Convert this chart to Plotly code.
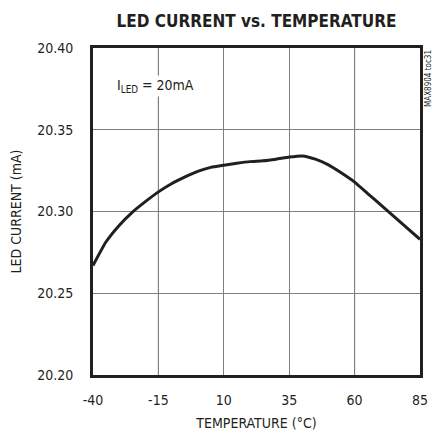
import plotly.graph_objects as go

# ── Data ───────────────────────────────────────────────────────────────────────
temperature = [-40, -35, -30, -25, -20, -15, -10, -5, 0, 5, 10, 15, 20, 25,
               30, 35, 40, 45, 50, 55, 60, 65, 70, 75, 80, 85]
led_current = [20.267, 20.2815, 20.2915, 20.2995, 20.306, 20.312, 20.317,
               20.321, 20.3245, 20.327, 20.3283, 20.3295, 20.3305, 20.331,
               20.332, 20.3333, 20.334, 20.332, 20.3285, 20.3235, 20.318,
               20.311, 20.304, 20.297, 20.290, 20.283]

x_ticks = [-40, -15, 10, 35, 60, 85]
y_ticks = [20.20, 20.25, 20.30, 20.35, 20.40]

FONT = "DejaVu Sans Condensed, Roboto, sans-serif"
TXT = "#231f20"

fig = go.Figure()

# darker vertical grid lines at -15 and 60 like the original
for xv in (x_ticks[1], x_ticks[4]):
    fig.add_vline(x=xv, line=dict(color=TXT, width=1), layer="below")

fig.add_trace(go.Scatter(
    x=temperature, y=led_current,
    mode="lines",
    line=dict(color=TXT, width=3, shape="spline", smoothing=0.5),
    showlegend=False, hoverinfo="skip",
))

# page body adds an 8px offset, so the figure is 8px smaller than the window
fig.update_layout(
    width=435, height=437,
    margin=dict(l=85, r=23, t=40, b=70),
    paper_bgcolor="white",
    plot_bgcolor="white",
    font=dict(family=FONT, color=TXT, size=14),
    title=dict(
        text="<b>LED CURRENT vs. TEMPERATURE</b>",
        font=dict(family=FONT, size=17, color=TXT),
        x=(85 + 412) / 2 / 435, xanchor="center",
        y=1 - 13 / 437, yanchor="middle",
    ),
    xaxis=dict(
        range=[-40, 85], tickvals=x_ticks,
        ticktext=[str(v) for v in x_ticks],
        showgrid=True, gridcolor="#808080", gridwidth=1,
        showline=True, linecolor=TXT, linewidth=3, mirror=True,
        ticks="", ticklabelstandoff=10, automargin=False,
        zeroline=False,
        title=dict(text="TEMPERATURE (°C)", standoff=12, font=dict(size=14)),
    ),
    yaxis=dict(
        range=[20.20, 20.40], tickvals=y_ticks,
        ticktext=[f"{v:.2f}" for v in y_ticks],
        showgrid=True, gridcolor="#808080", gridwidth=1,
        showline=True, linecolor=TXT, linewidth=3, mirror=True,
        ticks="", ticklabelstandoff=14, automargin=False,
        zeroline=False,
        title=dict(text="LED CURRENT (mA)", standoff=17, font=dict(size=14)),
    ),
)

# Condition label inside the plot
fig.add_annotation(
    x=0.068, y=0.885, xref="paper", yref="paper",
    xanchor="left", yanchor="middle",
    text="I<sub>LED</sub> = 20mA", showarrow=False,
    font=dict(size=14, color=TXT), bgcolor="white",
)

# Figure code on the right edge
fig.add_annotation(
    x=1.0, y=1.0, xref="paper", yref="paper",
    xanchor="left", yanchor="top", xshift=2,
    text="MAX8904 toc31", showarrow=False, textangle=-90,
    font=dict(size=8, color=TXT),
)

fig.write_html("out.html")
